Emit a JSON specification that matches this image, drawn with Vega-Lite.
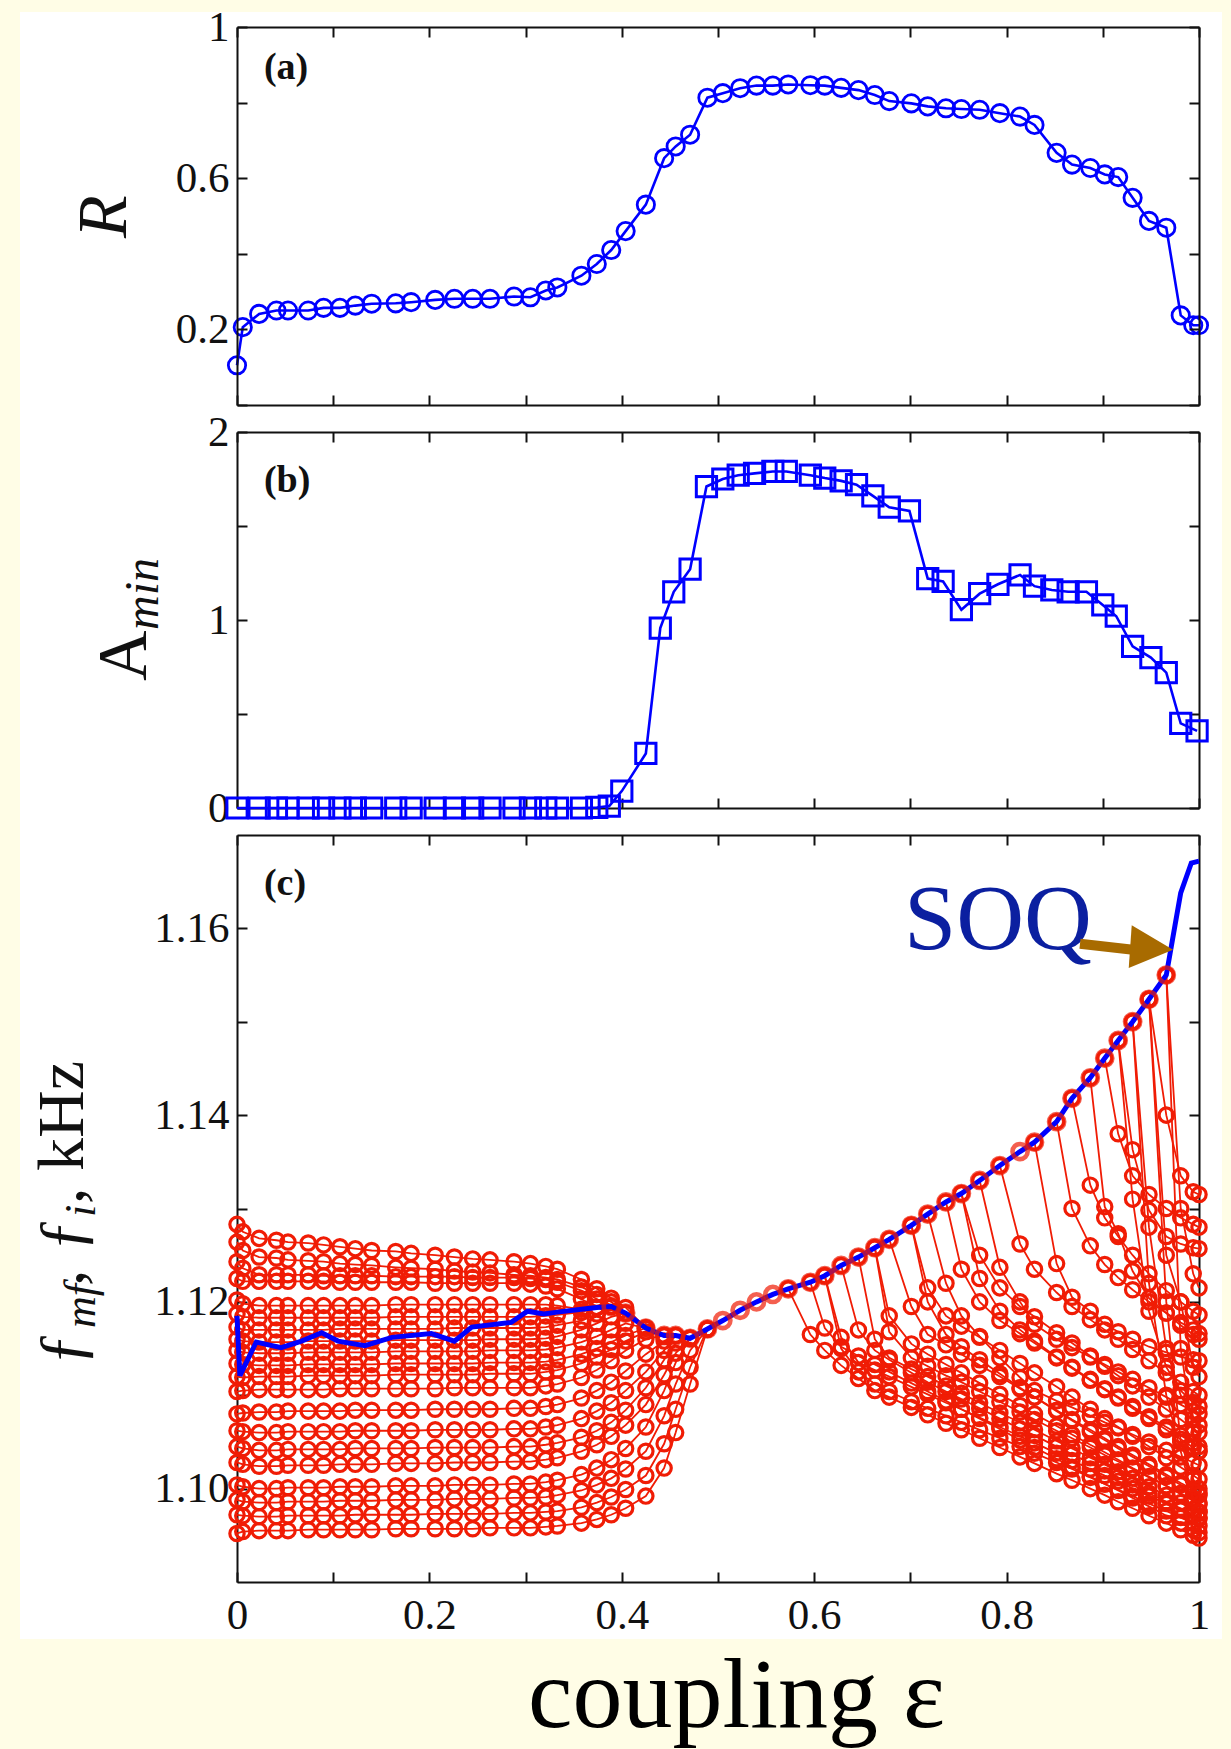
{
  "$schema": "https://vega.github.io/schema/vega-lite/v6.json",
  "background": "#fffde6",
  "padding": {"left": 20, "top": 6, "right": 9, "bottom": 3},
  "bounds": "flush",
  "spacing": 27,
  "config": {
    "view": {"stroke": null},
    "axis": {
      "domainColor": "#111111", "domainWidth": 2,
      "tickColor": "#111111", "tickWidth": 2, "tickSize": -10,
      "grid": false,
      "labelFont": "Liberation Serif", "labelFontSize": 43, "labelColor": "#111111",
      "titleFont": "Liberation Serif", "titleColor": "#111111", "titleFontWeight": "normal"
    },
    "axisX": {"labelPadding": 22, "labelFlush": false},
    "axisY": {"labelPadding": 18}
  },
  "datasets": {
    "ra": [
      {"e":0,"R":0.105},{"e":0.006,"R":0.206},{"e":0.023,"R":0.241},{"e":0.041,"R":0.25},{"e":0.053,"R":0.25},{"e":0.074,"R":0.25},{"e":0.09,"R":0.257},{"e":0.107,"R":0.257},{"e":0.123,"R":0.263},{"e":0.14,"R":0.268},{"e":0.165,"R":0.269},{"e":0.181,"R":0.272},{"e":0.206,"R":0.278},{"e":0.226,"R":0.281},{"e":0.245,"R":0.281},{"e":0.263,"R":0.281},{"e":0.288,"R":0.287},{"e":0.305,"R":0.285},{"e":0.321,"R":0.303},{"e":0.333,"R":0.311},{"e":0.358,"R":0.342},{"e":0.374,"R":0.373},{"e":0.389,"R":0.41},{"e":0.404,"R":0.46},{"e":0.425,"R":0.53},{"e":0.444,"R":0.653},{"e":0.456,"R":0.684},{"e":0.471,"R":0.715},{"e":0.489,"R":0.813},{"e":0.505,"R":0.825},{"e":0.523,"R":0.838},{"e":0.54,"R":0.845},{"e":0.557,"R":0.845},{"e":0.573,"R":0.848},{"e":0.596,"R":0.846},{"e":0.611,"R":0.845},{"e":0.628,"R":0.839},{"e":0.646,"R":0.833},{"e":0.663,"R":0.82},{"e":0.678,"R":0.804},{"e":0.701,"R":0.798},{"e":0.718,"R":0.79},{"e":0.737,"R":0.785},{"e":0.753,"R":0.783},{"e":0.772,"R":0.781},{"e":0.793,"R":0.772},{"e":0.814,"R":0.763},{"e":0.829,"R":0.741},{"e":0.852,"R":0.667},{"e":0.868,"R":0.636},{"e":0.887,"R":0.627},{"e":0.902,"R":0.61},{"e":0.916,"R":0.603},{"e":0.931,"R":0.548},{"e":0.948,"R":0.487},{"e":0.966,"R":0.469},{"e":0.981,"R":0.237},{"e":0.994,"R":0.211},{"e":1,"R":0.211}
    ],
    "amin": [
      {"e":0,"A":0},{"e":0.023,"A":0},{"e":0.041,"A":0},{"e":0.053,"A":0},{"e":0.074,"A":0},{"e":0.09,"A":0},{"e":0.107,"A":0},{"e":0.123,"A":0},{"e":0.14,"A":0},{"e":0.165,"A":0},{"e":0.181,"A":0},{"e":0.206,"A":0},{"e":0.226,"A":0},{"e":0.245,"A":0},{"e":0.263,"A":0},{"e":0.288,"A":0},{"e":0.305,"A":0},{"e":0.321,"A":0},{"e":0.333,"A":0},{"e":0.358,"A":0},{"e":0.374,"A":0.003},{"e":0.387,"A":0.01},{"e":0.4,"A":0.09},{"e":0.425,"A":0.29},{"e":0.44,"A":0.957},{"e":0.454,"A":1.15},{"e":0.471,"A":1.27},{"e":0.488,"A":1.71},{"e":0.505,"A":1.75},{"e":0.521,"A":1.77},{"e":0.538,"A":1.78},{"e":0.557,"A":1.79},{"e":0.571,"A":1.79},{"e":0.596,"A":1.77},{"e":0.611,"A":1.755},{"e":0.628,"A":1.74},{"e":0.644,"A":1.72},{"e":0.661,"A":1.66},{"e":0.678,"A":1.6},{"e":0.699,"A":1.58},{"e":0.718,"A":1.22},{"e":0.734,"A":1.205},{"e":0.753,"A":1.055},{"e":0.772,"A":1.14},{"e":0.791,"A":1.19},{"e":0.814,"A":1.24},{"e":0.829,"A":1.18},{"e":0.847,"A":1.16},{"e":0.864,"A":1.15},{"e":0.883,"A":1.15},{"e":0.9,"A":1.08},{"e":0.914,"A":1.02},{"e":0.931,"A":0.86},{"e":0.95,"A":0.8},{"e":0.966,"A":0.72},{"e":0.981,"A":0.45},{"e":0.998,"A":0.41}
    ],
    "fmf": [
      {"e":0,"f":1.1185},{"e":0.003,"f":1.1121},{"e":0.02,"f":1.1157},{"e":0.046,"f":1.1151},{"e":0.067,"f":1.1158},{"e":0.088,"f":1.1167},{"e":0.105,"f":1.1158},{"e":0.133,"f":1.1153},{"e":0.161,"f":1.1162},{"e":0.202,"f":1.1166},{"e":0.226,"f":1.1158},{"e":0.244,"f":1.1173},{"e":0.285,"f":1.1178},{"e":0.302,"f":1.119},{"e":0.319,"f":1.1187},{"e":0.333,"f":1.1189},{"e":0.358,"f":1.1192},{"e":0.374,"f":1.1194},{"e":0.389,"f":1.1195},{"e":0.404,"f":1.1188},{"e":0.425,"f":1.1172},{"e":0.444,"f":1.1164},{"e":0.456,"f":1.1164},{"e":0.471,"f":1.1161},{"e":0.489,"f":1.1171},{"e":0.505,"f":1.118},{"e":0.523,"f":1.1191},{"e":0.54,"f":1.12},{"e":0.557,"f":1.1208},{"e":0.573,"f":1.1214},{"e":0.596,"f":1.1221},{"e":0.611,"f":1.1228},{"e":0.628,"f":1.1239},{"e":0.646,"f":1.1248},{"e":0.663,"f":1.1258},{"e":0.678,"f":1.1267},{"e":0.701,"f":1.1282},{"e":0.718,"f":1.1294},{"e":0.737,"f":1.1307},{"e":0.753,"f":1.1316},{"e":0.772,"f":1.133},{"e":0.793,"f":1.1346},{"e":0.814,"f":1.1361},{"e":0.829,"f":1.1371},{"e":0.852,"f":1.1393},{"e":0.868,"f":1.1418},{"e":0.887,"f":1.144},{"e":0.902,"f":1.1461},{"e":0.916,"f":1.148},{"e":0.931,"f":1.15},{"e":0.948,"f":1.1524},{"e":0.966,"f":1.155},{"e":0.975,"f":1.1603},{"e":0.981,"f":1.1638},{"e":0.992,"f":1.167},{"e":1,"f":1.1672}
    ],
    "osc": [
      {"o":1,"e":0,"f":1.1283},{"o":1,"e":0.006,"f":1.1275},{"o":1,"e":0.023,"f":1.1268},{"o":1,"e":0.041,"f":1.1266},{"o":1,"e":0.053,"f":1.1264},{"o":1,"e":0.074,"f":1.1263},{"o":1,"e":0.09,"f":1.1261},{"o":1,"e":0.107,"f":1.1259},{"o":1,"e":0.123,"f":1.1257},{"o":1,"e":0.14,"f":1.1255},{"o":1,"e":0.165,"f":1.1254},{"o":1,"e":0.181,"f":1.1252},{"o":1,"e":0.206,"f":1.125},{"o":1,"e":0.226,"f":1.1248},{"o":1,"e":0.245,"f":1.1246},{"o":1,"e":0.263,"f":1.1245},{"o":1,"e":0.288,"f":1.1243},{"o":1,"e":0.305,"f":1.1241},{"o":1,"e":0.321,"f":1.1238},{"o":1,"e":0.333,"f":1.1235},{"o":1,"e":0.358,"f":1.1224},{"o":1,"e":0.374,"f":1.1214},{"o":1,"e":0.389,"f":1.1204},{"o":1,"e":0.404,"f":1.1194},{"o":1,"e":0.425,"f":1.1172},
      {"o":2,"e":0,"f":1.1264},{"o":2,"e":0.006,"f":1.1255},{"o":2,"e":0.023,"f":1.1248},{"o":2,"e":0.041,"f":1.1247},{"o":2,"e":0.053,"f":1.1245},{"o":2,"e":0.074,"f":1.1244},{"o":2,"e":0.09,"f":1.1243},{"o":2,"e":0.107,"f":1.1241},{"o":2,"e":0.123,"f":1.124},{"o":2,"e":0.14,"f":1.1239},{"o":2,"e":0.165,"f":1.1237},{"o":2,"e":0.181,"f":1.1236},{"o":2,"e":0.206,"f":1.1235},{"o":2,"e":0.226,"f":1.1233},{"o":2,"e":0.245,"f":1.1232},{"o":2,"e":0.263,"f":1.1231},{"o":2,"e":0.288,"f":1.1229},{"o":2,"e":0.305,"f":1.1228},{"o":2,"e":0.321,"f":1.1226},{"o":2,"e":0.333,"f":1.1224},{"o":2,"e":0.358,"f":1.1216},{"o":2,"e":0.374,"f":1.1208},{"o":2,"e":0.389,"f":1.12},{"o":2,"e":0.404,"f":1.1188},
      {"o":3,"e":0,"f":1.1243},{"o":3,"e":0.006,"f":1.1236},{"o":3,"e":0.023,"f":1.1229},{"o":3,"e":0.041,"f":1.1229},{"o":3,"e":0.053,"f":1.1229},{"o":3,"e":0.074,"f":1.1229},{"o":3,"e":0.09,"f":1.1228},{"o":3,"e":0.107,"f":1.1228},{"o":3,"e":0.123,"f":1.1228},{"o":3,"e":0.14,"f":1.1228},{"o":3,"e":0.165,"f":1.1227},{"o":3,"e":0.181,"f":1.1227},{"o":3,"e":0.206,"f":1.1227},{"o":3,"e":0.226,"f":1.1227},{"o":3,"e":0.245,"f":1.1226},{"o":3,"e":0.263,"f":1.1226},{"o":3,"e":0.288,"f":1.1226},{"o":3,"e":0.305,"f":1.1225},{"o":3,"e":0.321,"f":1.1224},{"o":3,"e":0.333,"f":1.1221},{"o":3,"e":0.358,"f":1.1212},{"o":3,"e":0.374,"f":1.1203},{"o":3,"e":0.389,"f":1.1195},
      {"o":4,"e":0,"f":1.1225},{"o":4,"e":0.006,"f":1.1222},{"o":4,"e":0.023,"f":1.1222},{"o":4,"e":0.041,"f":1.1222},{"o":4,"e":0.053,"f":1.1222},{"o":4,"e":0.074,"f":1.1222},{"o":4,"e":0.09,"f":1.1222},{"o":4,"e":0.107,"f":1.1221},{"o":4,"e":0.123,"f":1.1221},{"o":4,"e":0.14,"f":1.1221},{"o":4,"e":0.165,"f":1.1221},{"o":4,"e":0.181,"f":1.1221},{"o":4,"e":0.206,"f":1.122},{"o":4,"e":0.226,"f":1.122},{"o":4,"e":0.245,"f":1.122},{"o":4,"e":0.263,"f":1.122},{"o":4,"e":0.288,"f":1.122},{"o":4,"e":0.305,"f":1.1219},{"o":4,"e":0.321,"f":1.1217},{"o":4,"e":0.333,"f":1.1214},{"o":4,"e":0.358,"f":1.1203},{"o":4,"e":0.374,"f":1.1194},
      {"o":5,"e":0,"f":1.1202},{"o":5,"e":0.006,"f":1.1198},{"o":5,"e":0.023,"f":1.1196},{"o":5,"e":0.041,"f":1.1196},{"o":5,"e":0.053,"f":1.1196},{"o":5,"e":0.074,"f":1.1196},{"o":5,"e":0.09,"f":1.1196},{"o":5,"e":0.107,"f":1.1196},{"o":5,"e":0.123,"f":1.1196},{"o":5,"e":0.14,"f":1.1196},{"o":5,"e":0.165,"f":1.1197},{"o":5,"e":0.181,"f":1.1197},{"o":5,"e":0.206,"f":1.1197},{"o":5,"e":0.226,"f":1.1197},{"o":5,"e":0.245,"f":1.1197},{"o":5,"e":0.263,"f":1.1197},{"o":5,"e":0.288,"f":1.1197},{"o":5,"e":0.305,"f":1.1197},{"o":5,"e":0.321,"f":1.1197},{"o":5,"e":0.333,"f":1.1196},{"o":5,"e":0.358,"f":1.1192},
      {"o":6,"e":0,"f":1.1187},{"o":6,"e":0.006,"f":1.1184},{"o":6,"e":0.023,"f":1.1183},{"o":6,"e":0.041,"f":1.1183},{"o":6,"e":0.053,"f":1.1183},{"o":6,"e":0.074,"f":1.1183},{"o":6,"e":0.09,"f":1.1183},{"o":6,"e":0.107,"f":1.1183},{"o":6,"e":0.123,"f":1.1183},{"o":6,"e":0.14,"f":1.1183},{"o":6,"e":0.165,"f":1.1184},{"o":6,"e":0.181,"f":1.1184},{"o":6,"e":0.206,"f":1.1184},{"o":6,"e":0.226,"f":1.1184},{"o":6,"e":0.245,"f":1.1184},{"o":6,"e":0.263,"f":1.1184},{"o":6,"e":0.288,"f":1.1184},{"o":6,"e":0.305,"f":1.1184},{"o":6,"e":0.321,"f":1.1185},{"o":6,"e":0.333,"f":1.1186},{"o":6,"e":0.358,"f":1.1189},{"o":6,"e":0.374,"f":1.1194},
      {"o":7,"e":0,"f":1.1173},{"o":7,"e":0.006,"f":1.117},{"o":7,"e":0.023,"f":1.117},{"o":7,"e":0.041,"f":1.117},{"o":7,"e":0.053,"f":1.117},{"o":7,"e":0.074,"f":1.117},{"o":7,"e":0.09,"f":1.117},{"o":7,"e":0.107,"f":1.1171},{"o":7,"e":0.123,"f":1.1171},{"o":7,"e":0.14,"f":1.1171},{"o":7,"e":0.165,"f":1.1171},{"o":7,"e":0.181,"f":1.1171},{"o":7,"e":0.206,"f":1.1171},{"o":7,"e":0.226,"f":1.1172},{"o":7,"e":0.245,"f":1.1172},{"o":7,"e":0.263,"f":1.1172},{"o":7,"e":0.288,"f":1.1172},{"o":7,"e":0.305,"f":1.1172},{"o":7,"e":0.321,"f":1.1173},{"o":7,"e":0.333,"f":1.1175},{"o":7,"e":0.358,"f":1.118},{"o":7,"e":0.374,"f":1.1187},{"o":7,"e":0.389,"f":1.1195},
      {"o":8,"e":0,"f":1.116},{"o":8,"e":0.006,"f":1.1158},{"o":8,"e":0.023,"f":1.1157},{"o":8,"e":0.041,"f":1.1157},{"o":8,"e":0.053,"f":1.1157},{"o":8,"e":0.074,"f":1.1158},{"o":8,"e":0.09,"f":1.1158},{"o":8,"e":0.107,"f":1.1158},{"o":8,"e":0.123,"f":1.1158},{"o":8,"e":0.14,"f":1.1158},{"o":8,"e":0.165,"f":1.1159},{"o":8,"e":0.181,"f":1.1159},{"o":8,"e":0.206,"f":1.1159},{"o":8,"e":0.226,"f":1.1159},{"o":8,"e":0.245,"f":1.1159},{"o":8,"e":0.263,"f":1.116},{"o":8,"e":0.288,"f":1.116},{"o":8,"e":0.305,"f":1.116},{"o":8,"e":0.321,"f":1.1161},{"o":8,"e":0.333,"f":1.1163},{"o":8,"e":0.358,"f":1.117},{"o":8,"e":0.374,"f":1.1177},{"o":8,"e":0.389,"f":1.1184},{"o":8,"e":0.404,"f":1.1188},
      {"o":9,"e":0,"f":1.1148},{"o":9,"e":0.006,"f":1.1146},{"o":9,"e":0.023,"f":1.1145},{"o":9,"e":0.041,"f":1.1145},{"o":9,"e":0.053,"f":1.1145},{"o":9,"e":0.074,"f":1.1146},{"o":9,"e":0.09,"f":1.1146},{"o":9,"e":0.107,"f":1.1146},{"o":9,"e":0.123,"f":1.1146},{"o":9,"e":0.14,"f":1.1146},{"o":9,"e":0.165,"f":1.1147},{"o":9,"e":0.181,"f":1.1147},{"o":9,"e":0.206,"f":1.1147},{"o":9,"e":0.226,"f":1.1147},{"o":9,"e":0.245,"f":1.1147},{"o":9,"e":0.263,"f":1.1148},{"o":9,"e":0.288,"f":1.1148},{"o":9,"e":0.305,"f":1.1148},{"o":9,"e":0.321,"f":1.1149},{"o":9,"e":0.333,"f":1.1151},{"o":9,"e":0.358,"f":1.1157},{"o":9,"e":0.374,"f":1.1163},{"o":9,"e":0.389,"f":1.117},{"o":9,"e":0.404,"f":1.1177},{"o":9,"e":0.425,"f":1.1172},
      {"o":10,"e":0,"f":1.1134},{"o":10,"e":0.006,"f":1.1133},{"o":10,"e":0.023,"f":1.1132},{"o":10,"e":0.041,"f":1.1132},{"o":10,"e":0.053,"f":1.1132},{"o":10,"e":0.074,"f":1.1133},{"o":10,"e":0.09,"f":1.1133},{"o":10,"e":0.107,"f":1.1133},{"o":10,"e":0.123,"f":1.1133},{"o":10,"e":0.14,"f":1.1133},{"o":10,"e":0.165,"f":1.1134},{"o":10,"e":0.181,"f":1.1134},{"o":10,"e":0.206,"f":1.1134},{"o":10,"e":0.226,"f":1.1134},{"o":10,"e":0.245,"f":1.1134},{"o":10,"e":0.263,"f":1.1135},{"o":10,"e":0.288,"f":1.1135},{"o":10,"e":0.305,"f":1.1135},{"o":10,"e":0.321,"f":1.1136},{"o":10,"e":0.333,"f":1.1138},{"o":10,"e":0.358,"f":1.1144},{"o":10,"e":0.374,"f":1.115},{"o":10,"e":0.389,"f":1.1157},{"o":10,"e":0.404,"f":1.1164},{"o":10,"e":0.425,"f":1.1172},
      {"o":11,"e":0,"f":1.112},{"o":11,"e":0.006,"f":1.1119},{"o":11,"e":0.023,"f":1.112},{"o":11,"e":0.041,"f":1.112},{"o":11,"e":0.053,"f":1.112},{"o":11,"e":0.074,"f":1.1121},{"o":11,"e":0.09,"f":1.1121},{"o":11,"e":0.107,"f":1.1121},{"o":11,"e":0.123,"f":1.1121},{"o":11,"e":0.14,"f":1.1121},{"o":11,"e":0.165,"f":1.1122},{"o":11,"e":0.181,"f":1.1122},{"o":11,"e":0.206,"f":1.1122},{"o":11,"e":0.226,"f":1.1122},{"o":11,"e":0.245,"f":1.1122},{"o":11,"e":0.263,"f":1.1123},{"o":11,"e":0.288,"f":1.1123},{"o":11,"e":0.305,"f":1.1123},{"o":11,"e":0.321,"f":1.1125},{"o":11,"e":0.333,"f":1.1127},{"o":11,"e":0.358,"f":1.1134},{"o":11,"e":0.374,"f":1.1141},{"o":11,"e":0.389,"f":1.1149},{"o":11,"e":0.404,"f":1.1158},{"o":11,"e":0.425,"f":1.1168},{"o":11,"e":0.444,"f":1.1164},
      {"o":12,"e":0,"f":1.1104},{"o":12,"e":0.006,"f":1.1105},{"o":12,"e":0.023,"f":1.1106},{"o":12,"e":0.041,"f":1.1106},{"o":12,"e":0.053,"f":1.1106},{"o":12,"e":0.074,"f":1.1106},{"o":12,"e":0.09,"f":1.1106},{"o":12,"e":0.107,"f":1.1107},{"o":12,"e":0.123,"f":1.1107},{"o":12,"e":0.14,"f":1.1107},{"o":12,"e":0.165,"f":1.1107},{"o":12,"e":0.181,"f":1.1107},{"o":12,"e":0.206,"f":1.1107},{"o":12,"e":0.226,"f":1.1108},{"o":12,"e":0.245,"f":1.1108},{"o":12,"e":0.263,"f":1.1108},{"o":12,"e":0.288,"f":1.1108},{"o":12,"e":0.305,"f":1.1108},{"o":12,"e":0.321,"f":1.111},{"o":12,"e":0.333,"f":1.1112},{"o":12,"e":0.358,"f":1.1119},{"o":12,"e":0.374,"f":1.1127},{"o":12,"e":0.389,"f":1.1137},{"o":12,"e":0.404,"f":1.1148},{"o":12,"e":0.425,"f":1.116},{"o":12,"e":0.444,"f":1.1164},
      {"o":13,"e":0,"f":1.108},{"o":13,"e":0.006,"f":1.1081},{"o":13,"e":0.023,"f":1.1082},{"o":13,"e":0.041,"f":1.1082},{"o":13,"e":0.053,"f":1.1083},{"o":13,"e":0.074,"f":1.1083},{"o":13,"e":0.09,"f":1.1083},{"o":13,"e":0.107,"f":1.1083},{"o":13,"e":0.123,"f":1.1084},{"o":13,"e":0.14,"f":1.1084},{"o":13,"e":0.165,"f":1.1084},{"o":13,"e":0.181,"f":1.1084},{"o":13,"e":0.206,"f":1.1085},{"o":13,"e":0.226,"f":1.1085},{"o":13,"e":0.245,"f":1.1085},{"o":13,"e":0.263,"f":1.1085},{"o":13,"e":0.288,"f":1.1086},{"o":13,"e":0.305,"f":1.1086},{"o":13,"e":0.321,"f":1.1088},{"o":13,"e":0.333,"f":1.109},{"o":13,"e":0.358,"f":1.1097},{"o":13,"e":0.374,"f":1.1105},{"o":13,"e":0.389,"f":1.1114},{"o":13,"e":0.404,"f":1.1126},{"o":13,"e":0.425,"f":1.1144},{"o":13,"e":0.444,"f":1.1158},{"o":13,"e":0.456,"f":1.1164},
      {"o":14,"e":0,"f":1.1062},{"o":14,"e":0.006,"f":1.1061},{"o":14,"e":0.023,"f":1.106},{"o":14,"e":0.041,"f":1.106},{"o":14,"e":0.053,"f":1.1061},{"o":14,"e":0.074,"f":1.1061},{"o":14,"e":0.09,"f":1.1061},{"o":14,"e":0.107,"f":1.1061},{"o":14,"e":0.123,"f":1.1062},{"o":14,"e":0.14,"f":1.1062},{"o":14,"e":0.165,"f":1.1062},{"o":14,"e":0.181,"f":1.1062},{"o":14,"e":0.206,"f":1.1063},{"o":14,"e":0.226,"f":1.1063},{"o":14,"e":0.245,"f":1.1063},{"o":14,"e":0.263,"f":1.1063},{"o":14,"e":0.288,"f":1.1064},{"o":14,"e":0.305,"f":1.1064},{"o":14,"e":0.321,"f":1.1066},{"o":14,"e":0.333,"f":1.1068},{"o":14,"e":0.358,"f":1.1075},{"o":14,"e":0.374,"f":1.1083},{"o":14,"e":0.389,"f":1.1092},{"o":14,"e":0.404,"f":1.1105},{"o":14,"e":0.425,"f":1.1125},{"o":14,"e":0.444,"f":1.1148},{"o":14,"e":0.456,"f":1.1164},
      {"o":15,"e":0,"f":1.1045},{"o":15,"e":0.006,"f":1.1043},{"o":15,"e":0.023,"f":1.1041},{"o":15,"e":0.041,"f":1.1041},{"o":15,"e":0.053,"f":1.1042},{"o":15,"e":0.074,"f":1.1042},{"o":15,"e":0.09,"f":1.1042},{"o":15,"e":0.107,"f":1.1042},{"o":15,"e":0.123,"f":1.1043},{"o":15,"e":0.14,"f":1.1043},{"o":15,"e":0.165,"f":1.1043},{"o":15,"e":0.181,"f":1.1043},{"o":15,"e":0.206,"f":1.1044},{"o":15,"e":0.226,"f":1.1044},{"o":15,"e":0.245,"f":1.1044},{"o":15,"e":0.263,"f":1.1044},{"o":15,"e":0.288,"f":1.1045},{"o":15,"e":0.305,"f":1.1045},{"o":15,"e":0.321,"f":1.1047},{"o":15,"e":0.333,"f":1.1049},{"o":15,"e":0.358,"f":1.1055},{"o":15,"e":0.374,"f":1.1062},{"o":15,"e":0.389,"f":1.1071},{"o":15,"e":0.404,"f":1.1084},{"o":15,"e":0.425,"f":1.1108},{"o":15,"e":0.444,"f":1.1138},{"o":15,"e":0.456,"f":1.1156},{"o":15,"e":0.471,"f":1.1161},
      {"o":16,"e":0,"f":1.1028},{"o":16,"e":0.006,"f":1.1026},{"o":16,"e":0.023,"f":1.1024},{"o":16,"e":0.041,"f":1.1024},{"o":16,"e":0.053,"f":1.1025},{"o":16,"e":0.074,"f":1.1025},{"o":16,"e":0.09,"f":1.1025},{"o":16,"e":0.107,"f":1.1026},{"o":16,"e":0.123,"f":1.1026},{"o":16,"e":0.14,"f":1.1026},{"o":16,"e":0.165,"f":1.1027},{"o":16,"e":0.181,"f":1.1027},{"o":16,"e":0.206,"f":1.1027},{"o":16,"e":0.226,"f":1.1028},{"o":16,"e":0.245,"f":1.1028},{"o":16,"e":0.263,"f":1.1028},{"o":16,"e":0.288,"f":1.1029},{"o":16,"e":0.305,"f":1.1029},{"o":16,"e":0.321,"f":1.1031},{"o":16,"e":0.333,"f":1.1033},{"o":16,"e":0.358,"f":1.104},{"o":16,"e":0.374,"f":1.1047},{"o":16,"e":0.389,"f":1.1056},{"o":16,"e":0.404,"f":1.1068},{"o":16,"e":0.425,"f":1.109},{"o":16,"e":0.444,"f":1.1122},{"o":16,"e":0.456,"f":1.1145},{"o":16,"e":0.471,"f":1.1161},
      {"o":17,"e":0,"f":1.1004},{"o":17,"e":0.006,"f":1.1002},{"o":17,"e":0.023,"f":1.1},{"o":17,"e":0.041,"f":1.1},{"o":17,"e":0.053,"f":1.1001},{"o":17,"e":0.074,"f":1.1001},{"o":17,"e":0.09,"f":1.1001},{"o":17,"e":0.107,"f":1.1002},{"o":17,"e":0.123,"f":1.1002},{"o":17,"e":0.14,"f":1.1002},{"o":17,"e":0.165,"f":1.1003},{"o":17,"e":0.181,"f":1.1003},{"o":17,"e":0.206,"f":1.1003},{"o":17,"e":0.226,"f":1.1004},{"o":17,"e":0.245,"f":1.1004},{"o":17,"e":0.263,"f":1.1004},{"o":17,"e":0.288,"f":1.1005},{"o":17,"e":0.305,"f":1.1005},{"o":17,"e":0.321,"f":1.1007},{"o":17,"e":0.333,"f":1.1009},{"o":17,"e":0.358,"f":1.1015},{"o":17,"e":0.374,"f":1.1022},{"o":17,"e":0.389,"f":1.1031},{"o":17,"e":0.404,"f":1.1043},{"o":17,"e":0.425,"f":1.1066},{"o":17,"e":0.444,"f":1.1105},{"o":17,"e":0.456,"f":1.1135},{"o":17,"e":0.471,"f":1.1161},
      {"o":18,"e":0,"f":1.0988},{"o":18,"e":0.006,"f":1.0986},{"o":18,"e":0.023,"f":1.0985},{"o":18,"e":0.041,"f":1.0985},{"o":18,"e":0.053,"f":1.0986},{"o":18,"e":0.074,"f":1.0986},{"o":18,"e":0.09,"f":1.0986},{"o":18,"e":0.107,"f":1.0987},{"o":18,"e":0.123,"f":1.0987},{"o":18,"e":0.14,"f":1.0987},{"o":18,"e":0.165,"f":1.0988},{"o":18,"e":0.181,"f":1.0988},{"o":18,"e":0.206,"f":1.0988},{"o":18,"e":0.226,"f":1.0989},{"o":18,"e":0.245,"f":1.0989},{"o":18,"e":0.263,"f":1.0989},{"o":18,"e":0.288,"f":1.099},{"o":18,"e":0.305,"f":1.099},{"o":18,"e":0.321,"f":1.0991},{"o":18,"e":0.333,"f":1.0993},{"o":18,"e":0.358,"f":1.0998},{"o":18,"e":0.374,"f":1.1004},{"o":18,"e":0.389,"f":1.1011},{"o":18,"e":0.404,"f":1.1021},{"o":18,"e":0.425,"f":1.104},{"o":18,"e":0.444,"f":1.1078},{"o":18,"e":0.456,"f":1.1112},{"o":18,"e":0.471,"f":1.1148},{"o":18,"e":0.489,"f":1.1171},
      {"o":19,"e":0,"f":1.0972},{"o":19,"e":0.006,"f":1.0971},{"o":19,"e":0.023,"f":1.097},{"o":19,"e":0.041,"f":1.097},{"o":19,"e":0.053,"f":1.0971},{"o":19,"e":0.074,"f":1.0971},{"o":19,"e":0.09,"f":1.0971},{"o":19,"e":0.107,"f":1.0971},{"o":19,"e":0.123,"f":1.0972},{"o":19,"e":0.14,"f":1.0972},{"o":19,"e":0.165,"f":1.0972},{"o":19,"e":0.181,"f":1.0972},{"o":19,"e":0.206,"f":1.0973},{"o":19,"e":0.226,"f":1.0973},{"o":19,"e":0.245,"f":1.0973},{"o":19,"e":0.263,"f":1.0973},{"o":19,"e":0.288,"f":1.0974},{"o":19,"e":0.305,"f":1.0974},{"o":19,"e":0.321,"f":1.0975},{"o":19,"e":0.333,"f":1.0976},{"o":19,"e":0.358,"f":1.098},{"o":19,"e":0.374,"f":1.0985},{"o":19,"e":0.389,"f":1.0991},{"o":19,"e":0.404,"f":1.0999},{"o":19,"e":0.425,"f":1.1014},{"o":19,"e":0.444,"f":1.1048},{"o":19,"e":0.456,"f":1.1085},{"o":19,"e":0.471,"f":1.113},{"o":19,"e":0.489,"f":1.1171},
      {"o":20,"e":0,"f":1.0952},{"o":20,"e":0.006,"f":1.0954},{"o":20,"e":0.023,"f":1.0955},{"o":20,"e":0.041,"f":1.0955},{"o":20,"e":0.053,"f":1.0955},{"o":20,"e":0.074,"f":1.0956},{"o":20,"e":0.09,"f":1.0956},{"o":20,"e":0.107,"f":1.0956},{"o":20,"e":0.123,"f":1.0956},{"o":20,"e":0.14,"f":1.0956},{"o":20,"e":0.165,"f":1.0957},{"o":20,"e":0.181,"f":1.0957},{"o":20,"e":0.206,"f":1.0957},{"o":20,"e":0.226,"f":1.0957},{"o":20,"e":0.245,"f":1.0957},{"o":20,"e":0.263,"f":1.0958},{"o":20,"e":0.288,"f":1.0958},{"o":20,"e":0.305,"f":1.0958},{"o":20,"e":0.321,"f":1.0959},{"o":20,"e":0.333,"f":1.096},{"o":20,"e":0.358,"f":1.0963},{"o":20,"e":0.374,"f":1.0967},{"o":20,"e":0.389,"f":1.0972},{"o":20,"e":0.404,"f":1.0979},{"o":20,"e":0.425,"f":1.0992},{"o":20,"e":0.444,"f":1.1022},{"o":20,"e":0.456,"f":1.106},{"o":20,"e":0.471,"f":1.1112},{"o":20,"e":0.489,"f":1.1171},
      {"o":101,"e":0.573,"f":1.1214},{"o":101,"e":0.596,"f":1.1165},{"o":101,"e":0.611,"f":1.1148},{"o":101,"e":0.628,"f":1.1132},{"o":101,"e":0.646,"f":1.1118},{"o":101,"e":0.663,"f":1.1105},{"o":101,"e":0.678,"f":1.1098},{"o":101,"e":0.701,"f":1.1087},{"o":101,"e":0.718,"f":1.1079},{"o":101,"e":0.737,"f":1.107},{"o":101,"e":0.753,"f":1.1063},{"o":101,"e":0.772,"f":1.1054},{"o":101,"e":0.793,"f":1.1044},{"o":101,"e":0.814,"f":1.1034},{"o":101,"e":0.829,"f":1.1027},{"o":101,"e":0.852,"f":1.1016},{"o":101,"e":0.868,"f":1.1009},{"o":101,"e":0.887,"f":1.1},{"o":101,"e":0.902,"f":1.0993},{"o":101,"e":0.916,"f":1.0986},{"o":101,"e":0.931,"f":1.0979},{"o":101,"e":0.948,"f":1.0971},{"o":101,"e":0.966,"f":1.0963},{"o":101,"e":0.981,"f":1.0956},{"o":101,"e":0.994,"f":1.095},{"o":101,"e":1,"f":1.0947},
      {"o":102,"e":0.596,"f":1.1221},{"o":102,"e":0.611,"f":1.1172},{"o":102,"e":0.628,"f":1.1152},{"o":102,"e":0.646,"f":1.1142},{"o":102,"e":0.663,"f":1.1133},{"o":102,"e":0.678,"f":1.1125},{"o":102,"e":0.701,"f":1.1113},{"o":102,"e":0.718,"f":1.1104},{"o":102,"e":0.737,"f":1.1094},{"o":102,"e":0.753,"f":1.1085},{"o":102,"e":0.772,"f":1.1075},{"o":102,"e":0.793,"f":1.1064},{"o":102,"e":0.814,"f":1.1052},{"o":102,"e":0.829,"f":1.1044},{"o":102,"e":0.852,"f":1.1032},{"o":102,"e":0.868,"f":1.1023},{"o":102,"e":0.887,"f":1.1013},{"o":102,"e":0.902,"f":1.1005},{"o":102,"e":0.916,"f":1.0998},{"o":102,"e":0.931,"f":1.099},{"o":102,"e":0.948,"f":1.0981},{"o":102,"e":0.966,"f":1.0971},{"o":102,"e":0.981,"f":1.0963},{"o":102,"e":0.994,"f":1.0956},{"o":102,"e":1,"f":1.0953},
      {"o":103,"e":0.611,"f":1.1228},{"o":103,"e":0.628,"f":1.1162},{"o":103,"e":0.646,"f":1.1135},{"o":103,"e":0.663,"f":1.1127},{"o":103,"e":0.678,"f":1.112},{"o":103,"e":0.701,"f":1.1109},{"o":103,"e":0.718,"f":1.1101},{"o":103,"e":0.737,"f":1.1092},{"o":103,"e":0.753,"f":1.1085},{"o":103,"e":0.772,"f":1.1076},{"o":103,"e":0.793,"f":1.1066},{"o":103,"e":0.814,"f":1.1056},{"o":103,"e":0.829,"f":1.1049},{"o":103,"e":0.852,"f":1.1038},{"o":103,"e":0.868,"f":1.103},{"o":103,"e":0.887,"f":1.1021},{"o":103,"e":0.902,"f":1.1014},{"o":103,"e":0.916,"f":1.1008},{"o":103,"e":0.931,"f":1.1},{"o":103,"e":0.948,"f":1.0992},{"o":103,"e":0.966,"f":1.0984},{"o":103,"e":0.981,"f":1.0977},{"o":103,"e":0.994,"f":1.0971},{"o":103,"e":1,"f":1.0968},
      {"o":104,"e":0.646,"f":1.1248},{"o":104,"e":0.663,"f":1.116},{"o":104,"e":0.678,"f":1.114},{"o":104,"e":0.701,"f":1.1128},{"o":104,"e":0.718,"f":1.112},{"o":104,"e":0.737,"f":1.111},{"o":104,"e":0.753,"f":1.1102},{"o":104,"e":0.772,"f":1.1092},{"o":104,"e":0.793,"f":1.1081},{"o":104,"e":0.814,"f":1.1071},{"o":104,"e":0.829,"f":1.1063},{"o":104,"e":0.852,"f":1.1051},{"o":104,"e":0.868,"f":1.1043},{"o":104,"e":0.887,"f":1.1033},{"o":104,"e":0.902,"f":1.1026},{"o":104,"e":0.916,"f":1.1018},{"o":104,"e":0.931,"f":1.1011},{"o":104,"e":0.948,"f":1.1002},{"o":104,"e":0.966,"f":1.0993},{"o":104,"e":0.981,"f":1.0985},{"o":104,"e":0.994,"f":1.0978},{"o":104,"e":1,"f":1.0975},
      {"o":105,"e":0.663,"f":1.1258},{"o":105,"e":0.678,"f":1.1168},{"o":105,"e":0.701,"f":1.114},{"o":105,"e":0.718,"f":1.1131},{"o":105,"e":0.737,"f":1.1121},{"o":105,"e":0.753,"f":1.1114},{"o":105,"e":0.772,"f":1.1104},{"o":105,"e":0.793,"f":1.1093},{"o":105,"e":0.814,"f":1.1082},{"o":105,"e":0.829,"f":1.1074},{"o":105,"e":0.852,"f":1.1062},{"o":105,"e":0.868,"f":1.1054},{"o":105,"e":0.887,"f":1.1044},{"o":105,"e":0.902,"f":1.1036},{"o":105,"e":0.916,"f":1.1029},{"o":105,"e":0.931,"f":1.1021},{"o":105,"e":0.948,"f":1.1012},{"o":105,"e":0.966,"f":1.1003},{"o":105,"e":0.981,"f":1.0995},{"o":105,"e":0.994,"f":1.0988},{"o":105,"e":1,"f":1.0985},
      {"o":106,"e":0.678,"f":1.1267},{"o":106,"e":0.701,"f":1.1195},{"o":106,"e":0.718,"f":1.1165},{"o":106,"e":0.737,"f":1.1154},{"o":106,"e":0.753,"f":1.1144},{"o":106,"e":0.772,"f":1.1132},{"o":106,"e":0.793,"f":1.112},{"o":106,"e":0.814,"f":1.1107},{"o":106,"e":0.829,"f":1.1098},{"o":106,"e":0.852,"f":1.1084},{"o":106,"e":0.868,"f":1.1074},{"o":106,"e":0.887,"f":1.1063},{"o":106,"e":0.902,"f":1.1054},{"o":106,"e":0.916,"f":1.1045},{"o":106,"e":0.931,"f":1.1036},{"o":106,"e":0.948,"f":1.1026},{"o":106,"e":0.966,"f":1.1015},{"o":106,"e":0.981,"f":1.1006},{"o":106,"e":0.994,"f":1.0999},{"o":106,"e":1,"f":1.0995},
      {"o":107,"e":0.701,"f":1.1282},{"o":107,"e":0.718,"f":1.1215},{"o":107,"e":0.737,"f":1.1185},{"o":107,"e":0.753,"f":1.1174},{"o":107,"e":0.772,"f":1.1162},{"o":107,"e":0.793,"f":1.1148},{"o":107,"e":0.814,"f":1.1134},{"o":107,"e":0.829,"f":1.1124},{"o":107,"e":0.852,"f":1.1109},{"o":107,"e":0.868,"f":1.1098},{"o":107,"e":0.887,"f":1.1085},{"o":107,"e":0.902,"f":1.1075},{"o":107,"e":0.916,"f":1.1066},{"o":107,"e":0.931,"f":1.1056},{"o":107,"e":0.948,"f":1.1045},{"o":107,"e":0.966,"f":1.1033},{"o":107,"e":0.981,"f":1.1023},{"o":107,"e":0.994,"f":1.1014},{"o":107,"e":1,"f":1.101},
      {"o":108,"e":0.718,"f":1.1294},{"o":108,"e":0.737,"f":1.122},{"o":108,"e":0.753,"f":1.1185},{"o":108,"e":0.772,"f":1.1163},{"o":108,"e":0.793,"f":1.114},{"o":108,"e":0.814,"f":1.1119},{"o":108,"e":0.829,"f":1.1105},{"o":108,"e":0.852,"f":1.1094},{"o":108,"e":0.868,"f":1.1087},{"o":108,"e":0.887,"f":1.1078},{"o":108,"e":0.902,"f":1.1071},{"o":108,"e":0.916,"f":1.1065},{"o":108,"e":0.931,"f":1.1058},{"o":108,"e":0.948,"f":1.105},{"o":108,"e":0.966,"f":1.1041},{"o":108,"e":0.981,"f":1.1034},{"o":108,"e":0.994,"f":1.1028},{"o":108,"e":1,"f":1.1025},
      {"o":109,"e":0.737,"f":1.1307},{"o":109,"e":0.753,"f":1.1235},{"o":109,"e":0.772,"f":1.12},{"o":109,"e":0.793,"f":1.118},{"o":109,"e":0.814,"f":1.1166},{"o":109,"e":0.829,"f":1.1156},{"o":109,"e":0.852,"f":1.114},{"o":109,"e":0.868,"f":1.1129},{"o":109,"e":0.887,"f":1.1116},{"o":109,"e":0.902,"f":1.1106},{"o":109,"e":0.916,"f":1.1097},{"o":109,"e":0.931,"f":1.1086},{"o":109,"e":0.948,"f":1.1075},{"o":109,"e":0.966,"f":1.1063},{"o":109,"e":0.981,"f":1.1053},{"o":109,"e":0.994,"f":1.1044},{"o":109,"e":1,"f":1.104},
      {"o":110,"e":0.753,"f":1.1316},{"o":110,"e":0.772,"f":1.125},{"o":110,"e":0.793,"f":1.1215},{"o":110,"e":0.814,"f":1.1195},{"o":110,"e":0.829,"f":1.1184},{"o":110,"e":0.852,"f":1.1167},{"o":110,"e":0.868,"f":1.1156},{"o":110,"e":0.887,"f":1.1142},{"o":110,"e":0.902,"f":1.1131},{"o":110,"e":0.916,"f":1.1121},{"o":110,"e":0.931,"f":1.111},{"o":110,"e":0.948,"f":1.1098},{"o":110,"e":0.966,"f":1.1085},{"o":110,"e":0.981,"f":1.1074},{"o":110,"e":0.994,"f":1.1064},{"o":110,"e":1,"f":1.106},
      {"o":111,"e":0.772,"f":1.133},{"o":111,"e":0.793,"f":1.1237},{"o":111,"e":0.814,"f":1.12},{"o":111,"e":0.829,"f":1.1176},{"o":111,"e":0.852,"f":1.116},{"o":111,"e":0.868,"f":1.1151},{"o":111,"e":0.887,"f":1.1141},{"o":111,"e":0.902,"f":1.1133},{"o":111,"e":0.916,"f":1.1125},{"o":111,"e":0.931,"f":1.1117},{"o":111,"e":0.948,"f":1.1108},{"o":111,"e":0.966,"f":1.1098},{"o":111,"e":0.981,"f":1.109},{"o":111,"e":0.994,"f":1.1083},{"o":111,"e":1,"f":1.108},
      {"o":112,"e":0.793,"f":1.1346},{"o":112,"e":0.814,"f":1.1262},{"o":112,"e":0.829,"f":1.1235},{"o":112,"e":0.852,"f":1.121},{"o":112,"e":0.868,"f":1.1195},{"o":112,"e":0.887,"f":1.1181},{"o":112,"e":0.902,"f":1.117},{"o":112,"e":0.916,"f":1.116},{"o":112,"e":0.931,"f":1.1149},{"o":112,"e":0.948,"f":1.1137},{"o":112,"e":0.966,"f":1.1124},{"o":112,"e":0.981,"f":1.1114},{"o":112,"e":0.994,"f":1.1104},{"o":112,"e":1,"f":1.11},
      {"o":113,"e":0.829,"f":1.1371},{"o":113,"e":0.852,"f":1.1241},{"o":113,"e":0.868,"f":1.1205},{"o":113,"e":0.887,"f":1.119},{"o":113,"e":0.902,"f":1.1176},{"o":113,"e":0.916,"f":1.1168},{"o":113,"e":0.931,"f":1.116},{"o":113,"e":0.948,"f":1.1152},{"o":113,"e":0.966,"f":1.1146},{"o":113,"e":0.981,"f":1.1141},{"o":113,"e":0.994,"f":1.1138},{"o":113,"e":1,"f":1.1137},
      {"o":114,"e":0.852,"f":1.1393},{"o":114,"e":0.868,"f":1.13},{"o":114,"e":0.887,"f":1.126},{"o":114,"e":0.902,"f":1.124},{"o":114,"e":0.916,"f":1.1226},{"o":114,"e":0.931,"f":1.1213},{"o":114,"e":0.948,"f":1.12},{"o":114,"e":0.966,"f":1.1188},{"o":114,"e":0.981,"f":1.1178},{"o":114,"e":0.994,"f":1.117},{"o":114,"e":1,"f":1.1166},
      {"o":115,"e":0.868,"f":1.1418},{"o":115,"e":0.887,"f":1.1325},{"o":115,"e":0.902,"f":1.129},{"o":115,"e":0.916,"f":1.127},{"o":115,"e":0.931,"f":1.125},{"o":115,"e":0.948,"f":1.123},{"o":115,"e":0.966,"f":1.1212},{"o":115,"e":0.981,"f":1.12},{"o":115,"e":0.994,"f":1.119},{"o":115,"e":1,"f":1.1186},
      {"o":116,"e":0.887,"f":1.144},{"o":116,"e":0.902,"f":1.1302},{"o":116,"e":0.916,"f":1.1273},{"o":116,"e":0.931,"f":1.1233},{"o":116,"e":0.948,"f":1.1204},{"o":116,"e":0.966,"f":1.1188},{"o":116,"e":0.981,"f":1.1175},{"o":116,"e":0.994,"f":1.1165},{"o":116,"e":1,"f":1.116},
      {"o":117,"e":0.902,"f":1.1461},{"o":117,"e":0.916,"f":1.138},{"o":117,"e":0.931,"f":1.1335},{"o":117,"e":0.948,"f":1.1315},{"o":117,"e":0.966,"f":1.13},{"o":117,"e":0.981,"f":1.129},{"o":117,"e":0.994,"f":1.1283},{"o":117,"e":1,"f":1.128},
      {"o":118,"e":0.916,"f":1.148},{"o":118,"e":0.931,"f":1.1363},{"o":118,"e":0.948,"f":1.1298},{"o":118,"e":0.966,"f":1.127},{"o":118,"e":0.981,"f":1.1262},{"o":118,"e":0.994,"f":1.1258},{"o":118,"e":1,"f":1.1257},
      {"o":119,"e":0.948,"f":1.1524},{"o":119,"e":0.966,"f":1.14},{"o":119,"e":0.981,"f":1.1335},{"o":119,"e":0.994,"f":1.1318},{"o":119,"e":1,"f":1.1315},
      {"o":120,"e":0.966,"f":1.155},{"o":120,"e":0.981,"f":1.13},{"o":120,"e":0.994,"f":1.123},{"o":120,"e":1,"f":1.1215},
      {"o":121,"e":0.931,"f":1.15},{"o":121,"e":0.948,"f":1.128},{"o":121,"e":0.966,"f":1.115},{"o":121,"e":0.981,"f":1.11},{"o":121,"e":0.994,"f":1.1075},{"o":121,"e":1,"f":1.1068},
      {"o":122,"e":0.948,"f":1.1524},{"o":122,"e":0.966,"f":1.12},{"o":122,"e":0.981,"f":1.105},{"o":122,"e":0.994,"f":1.101},{"o":122,"e":1,"f":1.1},
      {"o":123,"e":0.966,"f":1.155},{"o":123,"e":0.981,"f":1.115},{"o":123,"e":0.994,"f":1.106},{"o":123,"e":1,"f":1.104},
      {"o":124,"e":0.916,"f":1.148},{"o":124,"e":0.931,"f":1.131},{"o":124,"e":0.948,"f":1.119},{"o":124,"e":0.966,"f":1.113},{"o":124,"e":0.981,"f":1.1105},{"o":124,"e":0.994,"f":1.1092},{"o":124,"e":1,"f":1.1088},
      {"o":125,"e":0.611,"f":1.1228},{"o":125,"e":0.628,"f":1.115},{"o":125,"e":0.646,"f":1.1125},{"o":125,"e":0.663,"f":1.1112},{"o":125,"e":0.678,"f":1.1104},{"o":125,"e":0.701,"f":1.1093},{"o":125,"e":0.718,"f":1.1086},{"o":125,"e":0.737,"f":1.1078},{"o":125,"e":0.753,"f":1.1071},{"o":125,"e":0.772,"f":1.1063},{"o":125,"e":0.793,"f":1.1054},{"o":125,"e":0.814,"f":1.1045},{"o":125,"e":0.829,"f":1.1038},{"o":125,"e":0.852,"f":1.1028},{"o":125,"e":0.868,"f":1.1021},{"o":125,"e":0.887,"f":1.1012},{"o":125,"e":0.902,"f":1.1005},{"o":125,"e":0.916,"f":1.0999},{"o":125,"e":0.931,"f":1.0992},{"o":125,"e":0.948,"f":1.0984},{"o":125,"e":0.966,"f":1.0976},{"o":125,"e":0.981,"f":1.0969},{"o":125,"e":0.994,"f":1.0963},{"o":125,"e":1,"f":1.096},
      {"o":126,"e":0.628,"f":1.1239},{"o":126,"e":0.646,"f":1.117},{"o":126,"e":0.663,"f":1.1148},{"o":126,"e":0.678,"f":1.1138},{"o":126,"e":0.701,"f":1.1124},{"o":126,"e":0.718,"f":1.1114},{"o":126,"e":0.737,"f":1.1104},{"o":126,"e":0.753,"f":1.1096},{"o":126,"e":0.772,"f":1.1086},{"o":126,"e":0.793,"f":1.1075},{"o":126,"e":0.814,"f":1.1064},{"o":126,"e":0.829,"f":1.1057},{"o":126,"e":0.852,"f":1.1045},{"o":126,"e":0.868,"f":1.1037},{"o":126,"e":0.887,"f":1.1027},{"o":126,"e":0.902,"f":1.1019},{"o":126,"e":0.916,"f":1.1012},{"o":126,"e":0.931,"f":1.1004},{"o":126,"e":0.948,"f":1.0995},{"o":126,"e":0.966,"f":1.0986},{"o":126,"e":0.981,"f":1.0979},{"o":126,"e":0.994,"f":1.0972},{"o":126,"e":1,"f":1.0969},
      {"o":127,"e":0.663,"f":1.1258},{"o":127,"e":0.678,"f":1.1185},{"o":127,"e":0.701,"f":1.1155},{"o":127,"e":0.718,"f":1.1144},{"o":127,"e":0.737,"f":1.1133},{"o":127,"e":0.753,"f":1.1124},{"o":127,"e":0.772,"f":1.1113},{"o":127,"e":0.793,"f":1.1101},{"o":127,"e":0.814,"f":1.1089},{"o":127,"e":0.829,"f":1.108},{"o":127,"e":0.852,"f":1.1067},{"o":127,"e":0.868,"f":1.1058},{"o":127,"e":0.887,"f":1.1047},{"o":127,"e":0.902,"f":1.1039},{"o":127,"e":0.916,"f":1.1031},{"o":127,"e":0.931,"f":1.1022},{"o":127,"e":0.948,"f":1.1013},{"o":127,"e":0.966,"f":1.1003},{"o":127,"e":0.981,"f":1.0994},{"o":127,"e":0.994,"f":1.0987},{"o":127,"e":1,"f":1.0983},
      {"o":128,"e":0.701,"f":1.1282},{"o":128,"e":0.718,"f":1.12},{"o":128,"e":0.737,"f":1.1165},{"o":128,"e":0.753,"f":1.1152},{"o":128,"e":0.772,"f":1.1138},{"o":128,"e":0.793,"f":1.1123},{"o":128,"e":0.814,"f":1.1108},{"o":128,"e":0.829,"f":1.1098},{"o":128,"e":0.852,"f":1.1083},{"o":128,"e":0.868,"f":1.1073},{"o":128,"e":0.887,"f":1.1061},{"o":128,"e":0.902,"f":1.1052},{"o":128,"e":0.916,"f":1.1043},{"o":128,"e":0.931,"f":1.1034},{"o":128,"e":0.948,"f":1.1024},{"o":128,"e":0.966,"f":1.1013},{"o":128,"e":0.981,"f":1.1004},{"o":128,"e":0.994,"f":1.0997},{"o":128,"e":1,"f":1.0993},
      {"o":129,"e":0.753,"f":1.1316},{"o":129,"e":0.772,"f":1.1225},{"o":129,"e":0.793,"f":1.119},{"o":129,"e":0.814,"f":1.117},{"o":129,"e":0.829,"f":1.1158},{"o":129,"e":0.852,"f":1.1141},{"o":129,"e":0.868,"f":1.113},{"o":129,"e":0.887,"f":1.1117},{"o":129,"e":0.902,"f":1.1107},{"o":129,"e":0.916,"f":1.1098},{"o":129,"e":0.931,"f":1.1088},{"o":129,"e":0.948,"f":1.1077},{"o":129,"e":0.966,"f":1.1066},{"o":129,"e":0.981,"f":1.1057},{"o":129,"e":0.994,"f":1.1049},{"o":129,"e":1,"f":1.1045},
      {"o":130,"e":0.931,"f":1.15},{"o":130,"e":0.948,"f":1.122},{"o":130,"e":0.966,"f":1.11},{"o":130,"e":0.981,"f":1.104},{"o":130,"e":0.994,"f":1.099},{"o":130,"e":1,"f":1.0975},
      {"o":131,"e":0.948,"f":1.1524},{"o":131,"e":0.966,"f":1.125},{"o":131,"e":0.981,"f":1.12},{"o":131,"e":0.994,"f":1.113},{"o":131,"e":1,"f":1.112}
    ]
  },
  "vconcat": [
    {
      "width": 962,
      "height": 378,
      "layer": [
        {
          "data": {"values": [{}]},
          "mark": {"type": "rect", "color": "#ffffff"},
          "encoding": {
            "x": {"datum": -0.22557, "type": "quantitative", "scale": {"domain": [0, 1], "nice": false, "zero": false}, "axis": null},
            "x2": {"datum": 1.02391},
            "y": {"datum": 1.0397, "type": "quantitative", "scale": {"domain": [0, 1], "nice": false, "zero": false}, "axis": null},
            "y2": {"datum": -3.26455}
          }
        },
        {
          "data": {"name": "ra"},
          "mark": {"type": "line", "color": "#0000ff", "strokeWidth": 2.6,
                   "point": {"filled": false, "shape": "circle", "size": 300, "strokeWidth": 2.8, "color": "#0000ff"}},
          "encoding": {
            "x": {"field": "e", "type": "quantitative", "scale": {"domain": [0, 1], "nice": false, "zero": false},
                  "axis": {"orient": "bottom", "values": [0,0.1,0.2,0.3,0.4,0.5,0.6,0.7,0.8,0.9,1], "labels": false, "title": null, "zindex": 1}},
            "y": {"field": "R", "type": "quantitative", "scale": {"domain": [0, 1], "nice": false, "zero": false},
                  "axis": {"orient": "left", "values": [0,0.2,0.4,0.6,0.8,1],
                           "labelExpr": "abs(datum.value-0.2)<0.01 || abs(datum.value-0.6)<0.01 || abs(datum.value-1)<0.01 ? format(datum.value,'~g') : ''",
                           "title": "R", "titleFontStyle": "italic", "titleFontSize": 70, "titleAngle": 270,
                           "titleX": -112, "titleY": 189, "titleAlign": "center", "titleBaseline": "alphabetic", "zindex": 1}}
          }
        },
        {
          "data": {"name": "ra"},
          "mark": {"type": "point", "opacity": 0},
          "encoding": {
            "x": {"field": "e", "type": "quantitative", "scale": {"domain": [0, 1], "nice": false, "zero": false},
                  "axis": {"orient": "top", "values": [0,0.1,0.2,0.3,0.4,0.5,0.6,0.7,0.8,0.9,1], "labels": false, "title": null, "zindex": 1}},
            "y": {"field": "R", "type": "quantitative", "scale": {"domain": [0, 1], "nice": false, "zero": false},
                  "axis": {"orient": "right", "values": [0,0.2,0.4,0.6,0.8,1], "labels": false, "title": null, "zindex": 1}}
          }
        },
        {
          "data": {"values": [{}]},
          "mark": {"type": "text", "text": "(a)", "font": "Liberation Serif", "fontSize": 38, "fontWeight": "bold", "color": "#111111", "align": "left", "baseline": "alphabetic"},
          "encoding": {
            "x": {"datum": 0.028, "type": "quantitative", "axis": null},
            "y": {"datum": 0.8624, "type": "quantitative", "axis": null}
          }
        }
      ],
      "resolve": {"axis": {"x": "independent", "y": "independent"}}
    },
    {
      "width": 962,
      "height": 376,
      "layer": [
        {
          "data": {"name": "amin"},
          "mark": {"type": "line", "color": "#0000ff", "strokeWidth": 2.6,
                   "point": {"filled": false, "shape": "square", "size": 410, "strokeWidth": 3, "color": "#0000ff"}},
          "encoding": {
            "x": {"field": "e", "type": "quantitative", "scale": {"domain": [0, 1], "nice": false, "zero": false},
                  "axis": {"orient": "bottom", "values": [0,0.1,0.2,0.3,0.4,0.5,0.6,0.7,0.8,0.9,1], "labels": false, "title": null}},
            "y": {"field": "A", "type": "quantitative", "scale": {"domain": [0, 2], "nice": false, "zero": false},
                  "axis": {"orient": "left", "values": [0,0.5,1,1.5,2],
                           "labelExpr": "abs(datum.value-round(datum.value))<0.01 ? format(datum.value,'d') : ''",
                           "title": null}}
          }
        },
        {
          "data": {"name": "amin"},
          "mark": {"type": "point", "opacity": 0},
          "encoding": {
            "x": {"field": "e", "type": "quantitative", "scale": {"domain": [0, 1], "nice": false, "zero": false},
                  "axis": {"orient": "top", "values": [0,0.1,0.2,0.3,0.4,0.5,0.6,0.7,0.8,0.9,1], "labels": false, "title": null}},
            "y": {"field": "A", "type": "quantitative", "scale": {"domain": [0, 2], "nice": false, "zero": false},
                  "axis": {"orient": "right", "values": [0,0.5,1,1.5,2], "labels": false, "title": null}}
          }
        },
        {
          "data": {"values": [{}]},
          "mark": {"type": "text", "text": "(b)", "font": "Liberation Serif", "fontSize": 38, "fontWeight": "bold", "color": "#111111", "align": "left", "baseline": "alphabetic"},
          "encoding": {
            "x": {"datum": 0.028, "type": "quantitative", "axis": null},
            "y": {"datum": 1.681, "type": "quantitative", "axis": null}
          }
        },
        {
          "data": {"values": [{}]},
          "mark": {"type": "text", "text": "A", "font": "Liberation Serif", "fontSize": 70, "color": "#111111", "angle": 270, "align": "left", "baseline": "alphabetic"},
          "encoding": {
            "x": {"datum": -0.09459, "type": "quantitative", "axis": null},
            "y": {"datum": 0.67553, "type": "quantitative", "axis": null}
          }
        },
        {
          "data": {"values": [{}]},
          "mark": {"type": "text", "text": "min", "font": "Liberation Serif", "fontSize": 48, "fontStyle": "italic", "color": "#111111", "angle": 270, "align": "left", "baseline": "alphabetic"},
          "encoding": {
            "x": {"datum": -0.08212, "type": "quantitative", "axis": null},
            "y": {"datum": 0.94681, "type": "quantitative", "axis": null}
          }
        }
      ],
      "resolve": {"axis": {"x": "independent", "y": "independent"}}
    },
    {
      "width": 962,
      "height": 747,
      "layer": [
        {
          "data": {"name": "osc"},
          "mark": {"type": "line", "color": "#f01c05", "strokeWidth": 1.8,
                   "point": {"filled": false, "shape": "circle", "size": 205, "strokeWidth": 3.2, "color": "#f01c05"}},
          "encoding": {
            "x": {"field": "e", "type": "quantitative", "scale": {"domain": [0, 1], "nice": false, "zero": false},
                  "axis": {"orient": "bottom", "values": [0,0.1,0.2,0.3,0.4,0.5,0.6,0.7,0.8,0.9,1],
                           "labelExpr": "round(datum.value*10)%2==0 ? format(datum.value,'~g') : ''",
                           "title": "coupling ε", "titleFontSize": 100, "titleX": 499, "titleY": 144,
                           "titleAlign": "center", "titleBaseline": "alphabetic", "titleAngle": 0, "titleColor": "#000000"}},
            "y": {"field": "f", "type": "quantitative", "scale": {"domain": [1.09, 1.17], "nice": false, "zero": false},
                  "axis": {"orient": "left", "values": [1.1,1.11,1.12,1.13,1.14,1.15,1.16],
                           "labelExpr": "round(datum.value*100)%2==0 ? format(datum.value,'.2f') : ''",
                           "title": null}},
            "detail": {"field": "o", "type": "nominal"}
          }
        },
        {
          "data": {"name": "fmf"},
          "mark": {"type": "line", "color": "#0000ff", "strokeWidth": 5},
          "encoding": {
            "x": {"field": "e", "type": "quantitative", "scale": {"domain": [0, 1], "nice": false, "zero": false}, "axis": null},
            "y": {"field": "f", "type": "quantitative", "scale": {"domain": [1.09, 1.17], "nice": false, "zero": false}, "axis": null}
          }
        },
        {
          "data": {"name": "fmf"},
          "transform": [{"filter": "datum.e >= 0.385 && datum.e <= 0.967"}],
          "mark": {"type": "point", "filled": false, "shape": "circle", "size": 230, "strokeWidth": 4.6, "color": "#f01c05"},
          "encoding": {
            "x": {"field": "e", "type": "quantitative", "scale": {"domain": [0, 1], "nice": false, "zero": false},
                  "axis": {"orient": "top", "values": [0,0.1,0.2,0.3,0.4,0.5,0.6,0.7,0.8,0.9,1], "labels": false, "title": null}},
            "y": {"field": "f", "type": "quantitative", "scale": {"domain": [1.09, 1.17], "nice": false, "zero": false},
                  "axis": {"orient": "right", "values": [1.1,1.11,1.12,1.13,1.14,1.15,1.16], "labels": false, "title": null}}
          }
        },
        {
          "data": {"values": [{}]},
          "mark": {"type": "text", "text": "(c)", "font": "Liberation Serif", "fontSize": 38, "fontWeight": "bold", "color": "#111111", "align": "left", "baseline": "alphabetic"},
          "encoding": {
            "x": {"datum": 0.028, "type": "quantitative", "axis": null},
            "y": {"datum": 1.16357, "type": "quantitative", "axis": null}
          }
        },
        {
          "data": {"values": [{}]},
          "mark": {"type": "text", "text": "SOQ", "font": "Liberation Serif", "fontSize": 94, "color": "#0b1fa0", "align": "left", "baseline": "alphabetic"},
          "encoding": {
            "x": {"datum": 0.6933, "type": "quantitative", "axis": null},
            "y": {"datum": 1.15779, "type": "quantitative", "axis": null}
          }
        },
        {
          "data": {"values": [{}]},
          "mark": {"type": "rule", "color": "#a86b00", "strokeWidth": 10},
          "encoding": {
            "x": {"datum": 0.8763, "type": "quantitative", "axis": null},
            "x2": {"datum": 0.9314},
            "y": {"datum": 1.15836, "type": "quantitative", "axis": null},
            "y2": {"datum": 1.15772}
          }
        },
        {
          "data": {"values": [{}]},
          "mark": {"type": "point", "shape": "M-1,-1L1,0L-1,1Z", "filled": true, "color": "#a86b00", "opacity": 1, "size": 1849, "angle": 4},
          "encoding": {
            "x": {"datum": 0.9508, "type": "quantitative", "axis": null},
            "y": {"datum": 1.15788, "type": "quantitative", "axis": null}
          }
        },
        {
          "data": {"values": [{}]},
          "mark": {"type": "text", "text": "ƒ", "font": "Liberation Serif", "fontSize": 66, "color": "#111111", "angle": 270, "align": "left", "baseline": "alphabetic"},
          "encoding": {"x": {"datum": -0.16008, "type": "quantitative", "axis": null}, "y": {"datum": 1.11324, "type": "quantitative", "axis": null}}
        },
        {
          "data": {"values": [{}]},
          "mark": {"type": "text", "text": "mf", "font": "Liberation Serif", "fontSize": 44, "fontStyle": "italic", "color": "#111111", "angle": 270, "align": "left", "baseline": "alphabetic"},
          "encoding": {"x": {"datum": -0.1476, "type": "quantitative", "axis": null}, "y": {"datum": 1.1172, "type": "quantitative", "axis": null}}
        },
        {
          "data": {"values": [{}]},
          "mark": {"type": "text", "text": ",", "font": "Liberation Serif", "fontSize": 66, "color": "#111111", "angle": 270, "align": "left", "baseline": "alphabetic"},
          "encoding": {"x": {"datum": -0.16008, "type": "quantitative", "axis": null}, "y": {"datum": 1.1217, "type": "quantitative", "axis": null}}
        },
        {
          "data": {"values": [{}]},
          "mark": {"type": "text", "text": "ƒ", "font": "Liberation Serif", "fontSize": 66, "color": "#111111", "angle": 270, "align": "left", "baseline": "alphabetic"},
          "encoding": {"x": {"datum": -0.16008, "type": "quantitative", "axis": null}, "y": {"datum": 1.12545, "type": "quantitative", "axis": null}}
        },
        {
          "data": {"values": [{}]},
          "mark": {"type": "text", "text": "i", "font": "Liberation Serif", "fontSize": 44, "fontStyle": "italic", "color": "#111111", "angle": 270, "align": "left", "baseline": "alphabetic"},
          "encoding": {"x": {"datum": -0.1476, "type": "quantitative", "axis": null}, "y": {"datum": 1.12909, "type": "quantitative", "axis": null}}
        },
        {
          "data": {"values": [{}]},
          "mark": {"type": "text", "text": ", kHz", "font": "Liberation Serif", "fontSize": 66, "color": "#111111", "angle": 270, "align": "left", "baseline": "alphabetic"},
          "encoding": {"x": {"datum": -0.16008, "type": "quantitative", "axis": null}, "y": {"datum": 1.13048, "type": "quantitative", "axis": null}}
        }
      ],
      "resolve": {"axis": {"x": "independent", "y": "independent"}}
    }
  ]
}
